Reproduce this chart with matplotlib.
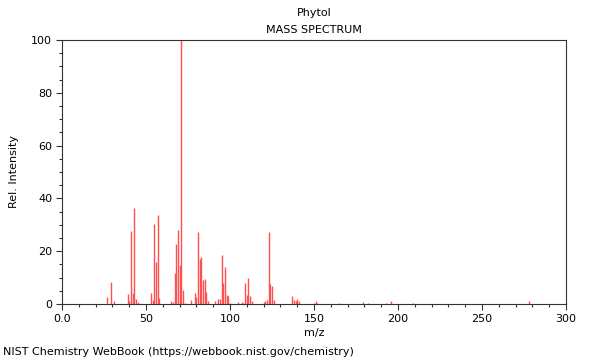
import matplotlib
matplotlib.use("Agg")
import matplotlib.pyplot as plt
from matplotlib.ticker import MultipleLocator

# peaks (m/z, relative intensity)
mz = [27, 29, 31, 39, 40, 41, 42, 43, 44, 45, 53, 54, 55, 56, 57, 58,
      65, 66, 67, 68, 69, 70, 71, 72, 73, 77, 79, 80, 81, 82, 83, 84, 85, 86, 87,
      91, 93, 94, 95, 96, 97, 98, 99, 100, 105, 107, 108, 109, 110, 111, 112, 113,
      120, 121, 122, 123, 124, 125, 126, 137, 138, 139, 140, 141,
      150, 151, 152, 165, 179, 182, 193, 196, 209, 278]
intensity = [2.5, 8.2, 1.0, 3.7, 1.2, 27.6, 4.3, 36.4, 1.8, 0.6, 4.0, 1.5, 30.2, 16.0, 33.6, 2.2,
             1.0, 0.8, 11.6, 22.7, 28.0, 14.8, 100, 5.3, 0.5, 1.5, 4.0, 2.6, 27.3, 16.9, 17.9, 9.1, 9.3, 4.4, 1.0,
             1.0, 1.8, 2.0, 18.4, 7.8, 14.1, 3.3, 3.0, 0.5, 0.7, 0.7, 0.5, 8.1, 3.5, 9.7, 3.0, 1.0,
             0.6, 1.2, 1.5, 27.4, 7.5, 6.8, 1.5, 3.0, 1.7, 1.2, 2.0, 1.0,
             0.5, 1.0, 0.5, 0.5, 0.8, 0.4, 0.5, 1.3, 0.2, 1.0]

plt.rcParams["font.family"] = "DejaVu Sans"
plt.rcParams["font.size"] = 8

fig = plt.figure(figsize=(6, 3.6), dpi=100)
ax = fig.add_axes([62/600, 1-304/360, 504/600, 264/360])
ax.vlines(mz, 0, intensity, color="#ff5050", linewidth=1.0)
ax.set_xlim(0, 300)
ax.set_ylim(0, 100)
ax.xaxis.set_major_locator(MultipleLocator(50))
ax.xaxis.set_minor_locator(MultipleLocator(10))
ax.yaxis.set_major_locator(MultipleLocator(20))
ax.yaxis.set_minor_locator(MultipleLocator(5))
ax.xaxis.set_major_formatter(plt.FuncFormatter(lambda v, p: f"{v:.1f}" if v == 0 else f"{v:.0f}"))
ax.tick_params(which="major", length=4, width=0.8, color="#333333", pad=3)
ax.tick_params(which="minor", length=2, width=0.8, color="#333333")
for s in ax.spines.values():
    s.set_color("#333333")
    s.set_linewidth(0.8)
ax.set_xlabel("m/z", labelpad=3)
ax.set_ylabel("Rel. Intensity", labelpad=9)
fig.text(0.5 * (62 + 566) / 600, 1 - 13/360, "Phytol", ha="center", va="center")
fig.text(0.5 * (62 + 566) / 600, 1 - 30/360, "MASS SPECTRUM", ha="center", va="center")
fig.text(3/600, 1 - 352/360, "NIST Chemistry WebBook (https://webbook.nist.gov/chemistry)",
         ha="left", va="center")
fig.savefig("out.png", dpi=100)
